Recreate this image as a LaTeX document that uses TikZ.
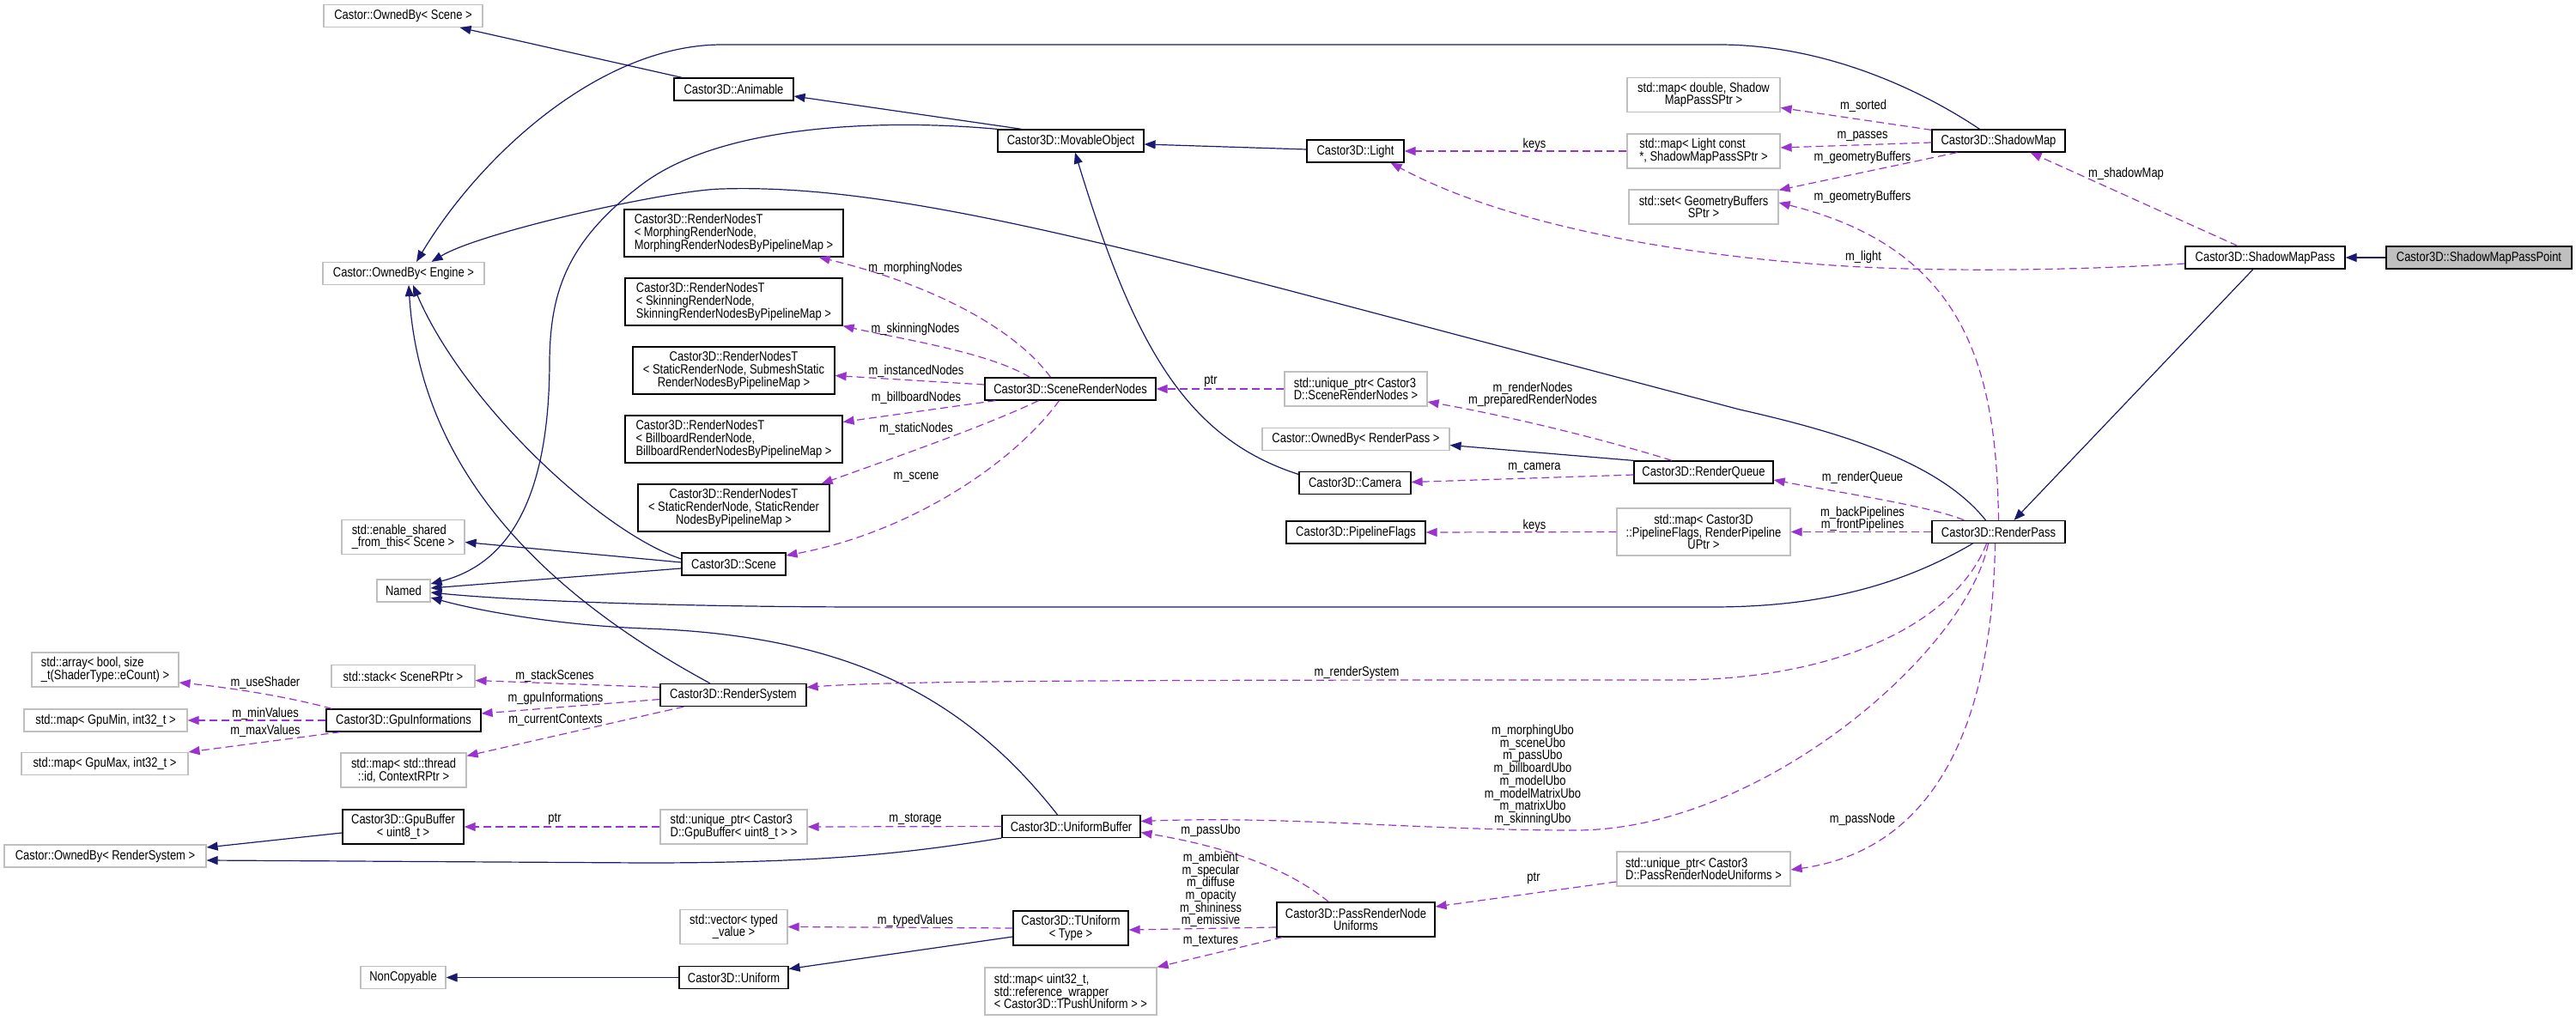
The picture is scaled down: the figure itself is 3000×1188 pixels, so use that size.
\documentclass[tikz,border=0pt]{standalone}
\usepackage{fontspec}
\setmainfont{Liberation Sans}[FakeStretch=0.83]
\usetikzlibrary{arrows.meta,calc}
\definecolor{Navy}{HTML}{191970}
\definecolor{Orchid}{HTML}{9A32CD}
\definecolor{Frame}{HTML}{BFBFBF}
\definecolor{Focus}{HTML}{BFBFBF}

\begin{document}
\begin{tikzpicture}[
    x=0.5pt,y=-0.5pt,
    font=\fontsize{7.8pt}{7.35pt}\selectfont,
    cls/.style={draw=black,fill=white,inner sep=1pt,minimum height=13pt,line width=0.6pt},
    ext/.style={draw=Frame,fill=white,inner sep=1pt,minimum height=13pt,line width=0.6pt},
    two/.style={minimum height=20pt},
    three/.style={minimum height=27.5pt},
    inherit/.style={-{Triangle[length=6.5pt,width=5pt]},color=Navy,line width=0.6pt},
    uses/.style={-{Triangle[length=6.5pt,width=5pt]},color=Orchid,line width=0.6pt,dash pattern=on 4.5pt off 2.5pt},
    lbl/.style={inner sep=0pt,text=black}
  ]
  \useasboundingbox (0,0) rectangle (3000,1188);

  \node[ext,minimum width=92.5pt] (ownscene) at (469.5,18.5) {Castor::OwnedBy< Scene >};
  \node[ext,minimum width=94pt] (ownengine) at (470,318.5) {Castor::OwnedBy< Engine >};
  \node[ext,minimum width=31pt] (named) at (470,688) {Named};
  \node[ext,two,align=left,minimum width=71.5pt] (enableshared) at (469.5,625.5) {std::enable\_shared\\\_from\_this< Scene >};
  \node[ext,two,align=left,minimum width=85.5pt] (stdarray) at (122.5,780) {std::array< bool, size\\\_t(ShaderType::eCount) >};
  \node[ext,minimum width=83.5pt] (stdstack) at (469.5,787.5) {std::stack< SceneRPtr >};
  \node[ext,minimum width=95pt] (mapgpumin) at (123,839) {std::map< GpuMin, int32\_t >};
  \node[cls,minimum width=90pt] (gpuinfo) at (470,839) {Castor3D::GpuInformations};
  \node[ext,minimum width=97pt] (mapgpumax) at (122,889.5) {std::map< GpuMax, int32\_t >};
  \node[ext,two,align=center,minimum width=73pt] (mapctx) at (470,897) {std::map< std::thread\\::id, ContextRPtr >};
  \node[cls,two,align=center,minimum width=70.5pt] (gpubuf) at (469.5,963) {Castor3D::GpuBuffer\\< uint8\_t >};
  \node[ext,minimum width=117.5pt] (ownrs) at (122.5,997) {Castor::OwnedBy< RenderSystem >};
  \node[ext,minimum width=49.5pt] (noncopy) at (469.5,1138.5) {NonCopyable};

  \node[cls,minimum width=69.5pt] (animable) at (854.5,104) {Castor3D::Animable};
  \node[cls,three,align=left,minimum width=127.5pt] (rnmorph) at (854.5,271.5) {Castor3D::RenderNodesT\\< MorphingRenderNode,\\MorphingRenderNodesByPipelineMap >};
  \node[cls,three,align=left,minimum width=126.5pt] (rnskin) at (854.5,351.5) {Castor3D::RenderNodesT\\< SkinningRenderNode,\\SkinningRenderNodesByPipelineMap >};
  \node[cls,three,align=center,minimum width=117.5pt] (rninst) at (854.5,431.5) {Castor3D::RenderNodesT\\< StaticRenderNode, SubmeshStatic\\RenderNodesByPipelineMap >};
  \node[cls,three,align=left,minimum width=126.5pt] (rnbill) at (854.5,511.5) {Castor3D::RenderNodesT\\< BillboardRenderNode,\\BillboardRenderNodesByPipelineMap >};
  \node[cls,three,align=center,minimum width=111.5pt] (rnstatic) at (854.5,591.5) {Castor3D::RenderNodesT\\< StaticRenderNode, StaticRender\\NodesByPipelineMap >};
  \node[cls,minimum width=60.5pt] (scene) at (854.5,657) {Castor3D::Scene};
  \node[cls,minimum width=85pt] (rsystem) at (854,809.5) {Castor3D::RenderSystem};
  \node[ext,two,align=left,minimum width=85.5pt] (uptrgpu) at (854.5,963) {std::unique\_ptr< Castor3\\D::GpuBuffer< uint8\_t > >};
  \node[ext,two,align=center,minimum width=62.5pt] (vectyped) at (854.5,1079.5) {std::vector< typed\\\_value >};
  \node[cls,minimum width=63.5pt] (uniform) at (854.5,1138.5) {Castor3D::Uniform};

  \node[cls,minimum width=85pt] (movable) at (1247,164) {Castor3D::MovableObject};
  \node[cls,minimum width=99.5pt] (srnodes) at (1246.5,453) {Castor3D::SceneRenderNodes};
  \node[cls,minimum width=80.5pt] (ubuffer) at (1247.5,962.5) {Castor3D::UniformBuffer};
  \node[cls,two,align=center,minimum width=67pt] (tuniform) at (1247,1081) {Castor3D::TUniform\\< Type >};
  \node[ext,three,align=left,minimum width=100pt] (mapuni) at (1247,1154.5) {std::map< uint32\_t,\\std::reference\_wrapper\\< Castor3D::TPushUniform > >};

  \node[cls,minimum width=56.5pt] (light) at (1578.5,176) {Castor3D::Light};
  \node[ext,two,align=left,minimum width=83pt] (uptrsrn) at (1579,453) {std::unique\_ptr< Castor3\\D::SceneRenderNodes >};
  \node[ext,minimum width=109pt] (ownrp) at (1579,511.5) {Castor::OwnedBy< RenderPass >};
  \node[cls,minimum width=65pt] (camera) at (1578,562.5) {Castor3D::Camera};
  \node[cls,minimum width=81pt] (pflags) at (1579,620) {Castor3D::PipelineFlags};
  \node[cls,two,align=center,minimum width=92pt] (pnu) at (1579,1071) {Castor3D::PassRenderNode\\Uniforms};

  \node[ext,two,align=center,minimum width=89pt] (mapsorted) at (1984,110.5) {std::map< double, Shadow\\MapPassSPtr >};
  \node[ext,two,align=left,minimum width=89pt] (mappasses) at (1984,176) {std::map< Light const\\{}*, ShadowMapPassSPtr >};
  \node[ext,two,align=center,minimum width=87pt] (setgeom) at (1984,241) {std::set< GeometryBuffers\\SPtr >};
  \node[cls,minimum width=81pt] (rqueue) at (1984,550) {Castor3D::RenderQueue};
  \node[ext,three,align=center,minimum width=101pt] (mappipe) at (1984,619.5) {std::map< Castor3D\\::PipelineFlags, RenderPipeline\\UPtr >};
  \node[ext,two,align=left,minimum width=101pt] (uptrpnu) at (1984,1012) {std::unique\_ptr< Castor3\\D::PassRenderNodeUniforms >};

  \node[cls,minimum width=77.5pt] (shadowmap) at (2327.5,164) {Castor3D::ShadowMap};
  \node[cls,minimum width=77.5pt] (rpass) at (2327.5,619.5) {Castor3D::RenderPass};
  \node[cls,minimum width=93pt] (smpass) at (2638,300) {Castor3D::ShadowMapPass};
  \node[cls,fill=Focus,minimum width=108pt] (smpoint) at (2887,300) {Castor3D::ShadowMapPassPoint};

  \draw[inherit] (smpoint.west) -- (smpass.east);
  \draw[inherit] ($(smpass.south)+(-14,0)$) -- ($(rpass.north)+(18,0)$);
  \draw[inherit] ($(shadowmap.north)+(-22,0)$) .. controls (2230,100) and (2120,52) .. (2002,52) -- (841,52) .. controls (700,52) and (560,180) .. ($(ownengine.north)+(15,0)$);
  \draw[inherit] ($(rpass.north)+(-15,0)$) .. controls (2260,540) and (2150,505) .. (2026,477) -- (1500,338) .. controls (1200,260) and (1000,215) .. (841,220) .. controls (780,221) and (560,270) .. ($(ownengine.north east)+(-62,0)$);
  \draw[inherit] ($(movable.north)+(-57,0)$) -- ($(animable.east)+(0,8)$);
  \draw[inherit] ($(animable.north west)+(10,0)$) -- ($(ownscene.south east)+(-27,0)$);
  \draw[inherit] (movable.north west) .. controls (1050,140) and (850,140) .. (750,213) .. controls (660,280) and (641,340) .. (640,420) .. controls (640,600) and (580,660) .. ($(named.east)+(0,-8)$);
  \draw[inherit] ($(camera.west)+(0,-10)$) .. controls (1380,510) and (1320,400) .. ($(movable.south)+(5,0)$);
  \draw[inherit] ($(light.west)+(0,-2)$) -- ($(movable.east)+(0,4)$);
  \draw[inherit] ($(scene.west)+(0,-6)$) .. controls (700,620) and (540,470) .. ($(ownengine.south)+(11,0)$);
  \draw[inherit] ($(scene.west)+(0,-2)$) -- ($(enableshared.east)+(0,6)$);
  \draw[inherit] ($(scene.west)+(0,5)$) -- ($(named.east)+(0,-3)$);
  \draw[inherit] ($(rsystem.north)+(-27,0)$) .. controls (650,700) and (490,560) .. ($(ownengine.south)+(6,0)$);
  \draw[inherit] ($(rpass.south west)+(48,0)$) .. controls (2200,690) and (2100,707) .. (1993,707) -- (1018,707) .. controls (800,707) and (600,700) .. ($(named.east)+(0,2)$);
  \draw[inherit] ($(ubuffer.north)+(-16,0)$) .. controls (1130,820) and (1000,740) .. (750,732) .. controls (650,728) and (560,712) .. ($(named.east)+(0,8)$);
  \draw[inherit] ($(gpubuf.west)+(0,7)$) -- ($(ownrs.east)+(0,-10)$);
  \draw[inherit] (ubuffer.south west) .. controls (1050,995) and (950,1005) .. (750,1005) -- ($(ownrs.east)+(0,5)$);
  \draw[inherit] (rqueue.north west) -- ($(ownrp.east)+(0,7)$);
  \draw[inherit] ($(tuniform.west)+(0,10)$) -- ($(uniform.east)+(0,-10)$);
  \draw[inherit] (uniform.west) -- (noncopy.east);

  \draw[uses] ($(smpass.north)+(-32,0)$) -- ($(shadowmap.south)+(37,0)$) node[lbl,at={(2476,202)}] {m\_shadowMap};
  \draw[uses] ($(shadowmap.north west)+(0,1)$) -- ($(mapsorted.east)+(0,15)$) node[lbl,at={(2170,123)}] {m\_sorted};
  \draw[uses] ($(shadowmap.west)+(0,2)$) -- ($(mappasses.east)+(0,-4)$) node[lbl,at={(2169,159)}] {m\_passes};
  \draw[uses] ($(shadowmap.south west)+(30,0)$) -- ($(setgeom.north east)+(0,1)$) node[lbl,at={(2169,183)}] {m\_geometryBuffers};
  \draw[uses] (rpass.north) .. controls (2325,430) and (2290,290) .. ($(setgeom.east)+(0,-5)$) node[lbl,at={(2169,229)}] {m\_geometryBuffers};
  \draw[uses] ($(smpass.west)+(0,7)$) .. controls (2400,316) and (2250,316) .. (2150,310) .. controls (1950,298) and (1750,260) .. ($(light.south)+(41,0)$) node[lbl,at={(2170,299)}] {m\_light};
  \draw[uses] (mappasses.west) -- (light.east) node[lbl,at={(1787,168)}] {keys};
  \draw[uses] ($(srnodes.north)+(-23,0)$) .. controls (1180,380) and (1080,330) .. ($(rnmorph.south east)+(-29,0)$) node[lbl,at={(1066,312)}] {m\_morphingNodes};
  \draw[uses] ($(srnodes.north)+(-47,0)$) .. controls (1150,410) and (1050,395) .. (rnskin.south east) node[lbl,at={(1066,383)}] {m\_skinningNodes};
  \draw[uses] ($(srnodes.west)+(0,-5)$) -- ($(rninst.east)+(0,6)$) node[lbl,at={(1067,432)}] {m\_instancedNodes};
  \draw[uses] ($(srnodes.south west)+(13,0)$) -- ($(rnbill.east)+(0,-20)$) node[lbl,at={(1067,463)}] {m\_billboardNodes};
  \draw[uses] ($(srnodes.south)+(-37,0)$) .. controls (1150,495) and (1050,530) .. ($(rnstatic.north east)+(-10,0)$) node[lbl,at={(1067,499)}] {m\_staticNodes};
  \draw[uses] ($(srnodes.south)+(-13,0)$) .. controls (1180,540) and (1060,620) .. ($(scene.east)+(0,-10)$) node[lbl,at={(1067,556)}] {m\_scene};
  \draw[uses] (uptrsrn.west) -- (srnodes.east) node[lbl,at={(1410,444)}] {ptr};
  \draw[uses] ($(rqueue.north)+(-37,0)$) .. controls (1880,515) and (1760,485) .. ($(uptrsrn.east)+(0,15)$) node[lbl,align=center,at={(1785,459.5)}] {m\_renderNodes\\m\_preparedRenderNodes};
  \draw[uses] ($(rqueue.west)+(0,3)$) -- ($(camera.east)+(0,-1)$) node[lbl,at={(1787,545)}] {m\_camera};
  \draw[uses] ($(rpass.north west)+(38,0)$) .. controls (2250,590) and (2150,575) .. ($(rqueue.east)+(0,9)$) node[lbl,at={(2169,556)}] {m\_renderQueue};
  \draw[uses] (mappipe.west) -- (pflags.east) node[lbl,at={(1787,612)}] {keys};
  \draw[uses] (rpass.west) -- (mappipe.east) node[lbl,align=center,at={(2169,604.5)}] {m\_backPipelines\\m\_frontPipelines};
  \draw[uses] ($(rpass.south)+(-14,0)$) .. controls (2280,720) and (2150,792) .. (1950,792) .. controls (1400,792) and (1050,792) .. ($(rsystem.east)+(0,-9)$) node[lbl,at={(1580,783)}] {m\_renderSystem};
  \draw[uses] ($(rpass.south)+(-12,0)$) .. controls (2290,760) and (2050,967) .. (1835,967) .. controls (1650,967) and (1500,950) .. ($(ubuffer.east)+(0,-6)$) node[lbl,align=center,at={(1785,903)}] {m\_morphingUbo\\m\_sceneUbo\\m\_passUbo\\m\_billboardUbo\\m\_modelUbo\\m\_modelMatrixUbo\\m\_matrixUbo\\m\_skinningUbo};
  \draw[uses] ($(rpass.south)+(-4,0)$) .. controls (2320,850) and (2250,990) .. ($(uptrpnu.east)+(0,1)$) node[lbl,at={(2169,954)}] {m\_passNode};
  \draw[uses] ($(pnu.north west)+(61,0)$) .. controls (1510,1020) and (1450,990) .. ($(ubuffer.east)+(0,7)$) node[lbl,at={(1410,967)}] {m\_passUbo};
  \draw[uses] ($(pnu.west)+(0,9)$) -- ($(tuniform.east)+(0,2)$) node[lbl,align=center,at={(1410,1036)}] {m\_ambient\\m\_specular\\m\_diffuse\\m\_opacity\\m\_shininess\\m\_emissive};
  \draw[uses] ($(pnu.south west)+(7,0)$) -- (mapuni.north east) node[lbl,at={(1410,1096)}] {m\_textures};
  \draw[uses] ($(uptrpnu.west)+(0,15)$) -- ($(pnu.east)+(0,-15)$) node[lbl,at={(1786,1023)}] {ptr};
  \draw[uses] (ubuffer.west) -- (uptrgpu.east) node[lbl,at={(1066,954)}] {m\_storage};
  \draw[uses] (uptrgpu.west) -- (gpubuf.east) node[lbl,at={(646,954)}] {ptr};
  \draw[uses] (tuniform.west) -- (vectyped.east) node[lbl,at={(1066,1072)}] {m\_typedValues};
  \draw[uses] ($(gpuinfo.north west)+(7,0)$) .. controls (330,810) and (260,800) .. ($(stdarray.east)+(0,15)$) node[lbl,at={(309,795)}] {m\_useShader};
  \draw[uses] (gpuinfo.west) -- (mapgpumin.east) node[lbl,at={(309,831)}] {m\_minValues};
  \draw[uses] ($(gpuinfo.south west)+(17,0)$) -- (mapgpumax.north east) node[lbl,at={(309,851)}] {m\_maxValues};
  \draw[uses] ($(rsystem.west)+(0,-9)$) -- ($(stdstack.east)+(0,5)$) node[lbl,at={(646,787)}] {m\_stackScenes};
  \draw[uses] ($(rsystem.west)+(0,5)$) -- ($(gpuinfo.east)+(0,-8)$) node[lbl,at={(647,813)}] {m\_gpuInformations};
  \draw[uses] ($(rsystem.south west)+(28,0)$) -- ($(mapctx.north east)+(0,4)$) node[lbl,at={(647,839)}] {m\_currentContexts};
\end{tikzpicture}
\end{document}
